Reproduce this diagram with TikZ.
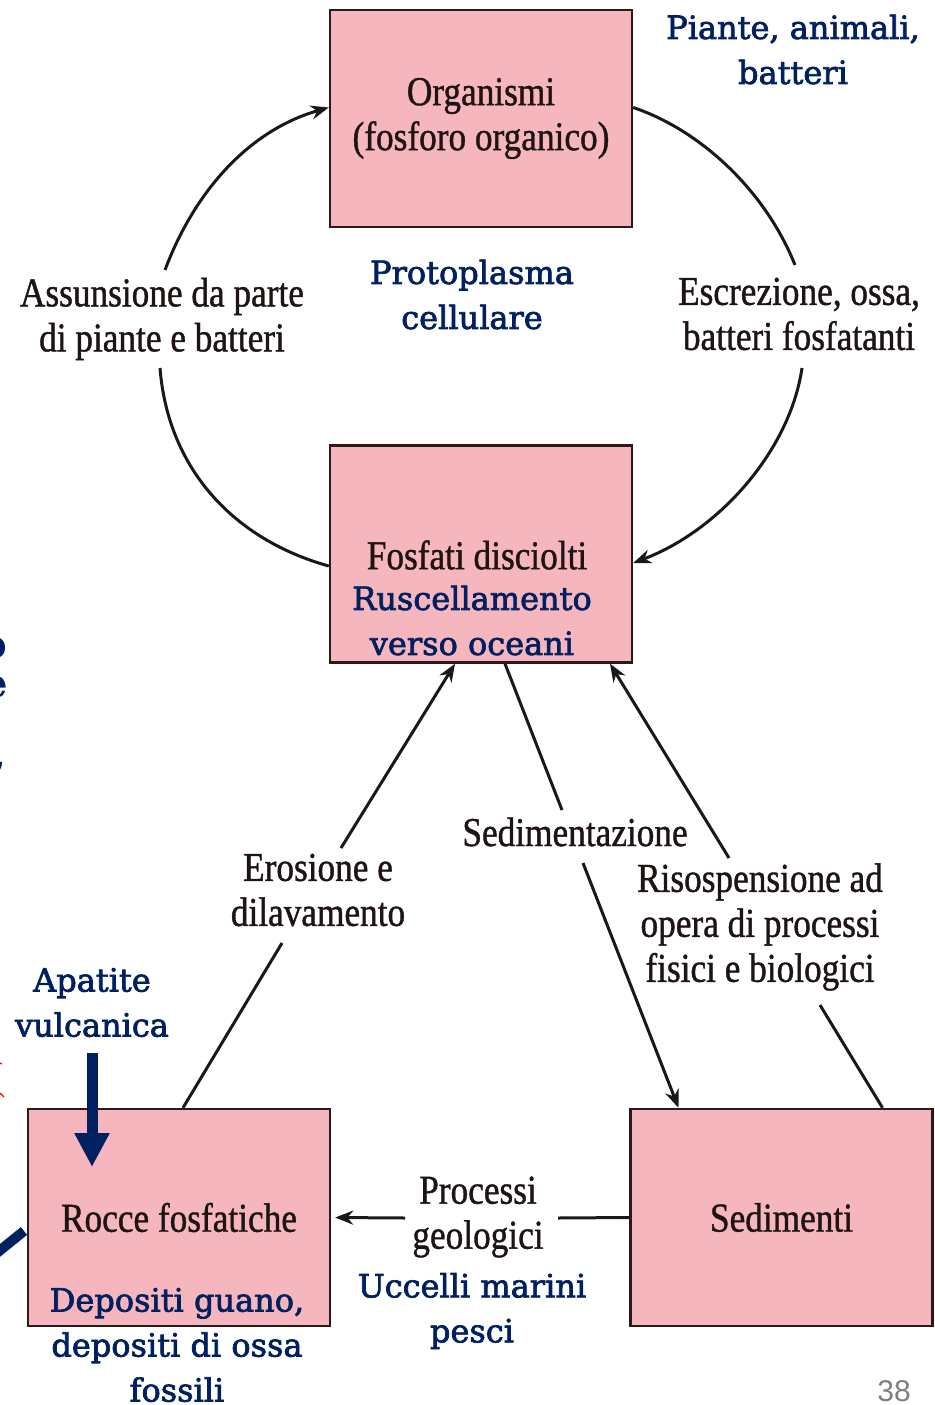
\documentclass[tikz,border=0pt]{standalone}
\usepackage{fontspec}
\usetikzlibrary{arrows.meta}
\newfontfamily\blkfont[FakeStretch=0.86,FakeBold=1.0]{Liberation Serif}
\newfontfamily\blufont[FakeBold=2.2]{DejaVu Serif}
\newfontfamily\fragfont{DejaVu Serif Bold}
\newfontfamily\numfont{Liberation Sans}
\definecolor{boxpink}{RGB}{246,182,190}
\definecolor{boxline}{RGB}{45,25,25}
\definecolor{navy}{RGB}{0,32,96}
\definecolor{inkc}{RGB}{30,20,20}
\definecolor{arrowc}{RGB}{25,25,25}
\definecolor{pagegray}{RGB}{127,127,127}
\tikzset{
  pbox/.style={draw=boxline, fill=boxpink, line width=2.4pt, minimum width=302pt, minimum height=217pt, inner sep=0pt,
    font=\blkfont\fontsize{41}{45}\selectfont, text=inkc, align=center},
  blk/.style={font=\blkfont\fontsize{41}{45}\selectfont, text=inkc, align=center, inner sep=0pt},
  blu/.style={font=\blufont\fontsize{32}{45}\selectfont, text=navy, align=center, inner sep=0pt},
  frag/.style={font=\fragfont\fontsize{40}{40}\selectfont, text=navy, inner sep=0pt, anchor=base east},
  conn/.style={draw=arrowc, line width=3pt},
  tip/.style={-{Stealth[length=18pt,width=14pt]}},
  bigarrow/.style={draw=navy, line width=11pt, -{Triangle[length=34pt 0 0,width=33pt 0 0]}},
}
\begin{document}
\begin{tikzpicture}[x=1pt,y=-1pt]
\path[use as bounding box] (0,0) rectangle (934,1405);
\clip (0,0) rectangle (934,1405);
\fill[white] (0,0) rectangle (934,1405);

% boxes
\node[pbox] (org) at (481,118.5) {Organismi\\(fosforo organico)};
\node[pbox] (fosf) at (481,554) {};
\node[pbox] (rocce) at (179,1217.5) {Rocce fosfatiche};
\node[pbox] (sed) at (781.5,1217.5) {Sedimenti};

% texts
\node[blu] (piante) at (793,49.5) {Piante, animali,\\batteri};
\node[blu] (proto) at (472,294.5) {Protoplasma\\cellulare};
\node[blk] (assun) at (162,319) {Assunsione da parte\\di piante e batteri};
\node[blk] (escr) at (799,314) {Escrezione, ossa,\\batteri fosfatanti};
\node[blk] (fosdis) at (477,555) {Fosfati disciolti};
\node[blu] (rusc) at (472,620.5) {Ruscellamento\\verso oceani};
\node[blk] (sedz) at (575,832) {Sedimentazione};
\node[blk] (eros) at (318,890) {Erosione e\\dilavamento};
\node[blk] (risosp) at (760,927) {Risospensione ad\\opera di processi\\fisici e biologici};
\node[blu] (apat) at (92,1002.5) {Apatite\\vulcanica};
\node[blu] (depos) at (177,1345) {Depositi guano,\\depositi di ossa\\fossili};
\node[blk] (proc) at (478,1217) {Processi\\geologici};
\node[blu] (ucc) at (472,1311) {Uccelli marini\\pesci};
\node[font=\numfont\fontsize{30}{30}\selectfont, text=pagegray, inner sep=0pt] (num) at (894,1391) {38};

% cut-off fragments at the left edge
\node[frag] (fo) at (7,658) {o};
\node[frag] (fe) at (8,697) {e};
\node[frag] (fc) at (7,768) {,};

% connector end points
\coordinate (a1) at (165,270);
\coordinate (a2) at (160,368);
\coordinate (e1) at (795,265);
\coordinate (e2) at (802,368);
\coordinate (er1) at (282,943);
\coordinate (er2) at (341,848);
\coordinate (sd1) at (562,810);
\coordinate (sd2) at (583,863);
\coordinate (r1) at (820,1005);
\coordinate (r2) at (729,858);
\coordinate (p1) at (558,1218);
\coordinate (p2) at (405,1218);
\coordinate (ap1) at (92,1053);
\coordinate (ap2) at (92,1167);
\coordinate (sl1) at (-12,1260);
\coordinate (sl2) at (24,1231);

% cycle arcs
\draw[conn,tip] (a1) .. controls (195,190) and (250,130) .. ([yshift=11pt]org.west);
\draw[conn] (a2) .. controls (168,470) and (235,540) .. ([yshift=-12pt]fosf.west);
\draw[conn] ([yshift=11pt]org.east) .. controls (700,130) and (765,190) .. (e1);
\draw[conn,tip] (e2) .. controls (790,450) and (720,530) .. ([yshift=-9pt]fosf.east);

% straight connectors
\draw[conn] ([xshift=4pt]rocce.north) -- (er1);
\draw[conn,tip] (er2) -- ([xshift=-26pt]fosf.south);
\draw[conn] ([xshift=24pt]fosf.south) -- (sd1);
\draw[conn,tip] (sd2) -- ([xshift=-103pt]sed.north);
\draw[conn] ([xshift=101pt]sed.north) -- (r1);
\draw[conn,tip] (r2) -- ([xshift=129pt]fosf.south);
\draw[conn] (sed.west) -- (p1);
\draw[conn,tip] (p2) -- ([xshift=4pt]rocce.east);

% blue arrows
\draw[bigarrow] (ap1) -- (ap2);
\draw[draw=navy, line width=10pt] (sl1) -- (sl2);
\draw[red, line width=1.3pt] (0,1063) -- (2,1064);
\draw[red, line width=1.3pt] (0,1093) -- (4,1097);
\end{tikzpicture}
\end{document}
